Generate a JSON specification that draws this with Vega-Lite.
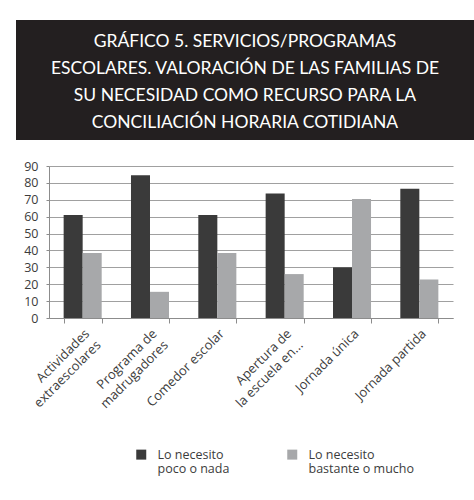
{
  "$schema": "https://vega.github.io/schema/vega-lite/v6.json",
  "padding": {"left": 16, "top": 0, "right": 0, "bottom": 0},
  "background": "white",
  "spacing": -5,
  "config": {
    "font": "Open Sans",
    "view": {"stroke": null}
  },
  "datasets": {
    "titulo": [
      {"n": 1, "t": "GRÁFICO 5. SERVICIOS/PROGRAMAS"},
      {"n": 2, "t": "ESCOLARES. VALORACIÓN DE LAS FAMILIAS DE"},
      {"n": 3, "t": "SU NECESIDAD COMO RECURSO PARA LA"},
      {"n": 4, "t": "CONCILIACIÓN HORARIA COTIDIANA"}
    ],
    "datos": [
      {"servicio": "Actividades extraescolares", "serie": "Lo necesito poco o nada", "valor": 61},
      {"servicio": "Actividades extraescolares", "serie": "Lo necesito bastante o mucho", "valor": 38.5},
      {"servicio": "Programa de madrugadores", "serie": "Lo necesito poco o nada", "valor": 84.5},
      {"servicio": "Programa de madrugadores", "serie": "Lo necesito bastante o mucho", "valor": 15.5},
      {"servicio": "Comedor escolar", "serie": "Lo necesito poco o nada", "valor": 61},
      {"servicio": "Comedor escolar", "serie": "Lo necesito bastante o mucho", "valor": 38.5},
      {"servicio": "Apertura de la escuela en...", "serie": "Lo necesito poco o nada", "valor": 73.7},
      {"servicio": "Apertura de la escuela en...", "serie": "Lo necesito bastante o mucho", "valor": 26},
      {"servicio": "Jornada única", "serie": "Lo necesito poco o nada", "valor": 30},
      {"servicio": "Jornada única", "serie": "Lo necesito bastante o mucho", "valor": 70.5},
      {"servicio": "Jornada partida", "serie": "Lo necesito poco o nada", "valor": 76.6},
      {"servicio": "Jornada partida", "serie": "Lo necesito bastante o mucho", "valor": 22.8}
    ]
  },
  "vconcat": [
    {
      "width": 392,
      "height": 54,
      "view": {"fill": "#231f20", "stroke": "#231f20", "strokeWidth": 66},
      "data": {"name": "titulo"},
      "mark": {"type": "text", "color": "white", "fontSize": 17.5, "font": "Lato", "baseline": "middle", "align": "center"},
      "encoding": {
        "y": {"field": "n", "type": "ordinal", "axis": null, "scale": {"range": [-11, 70], "padding": 0}},
        "text": {"field": "t"}
      }
    },
    {
      "width": 404,
      "height": 152,
      "data": {"name": "datos"},
      "mark": {"type": "bar"},
      "encoding": {
        "x": {
          "field": "servicio",
          "type": "nominal",
          "sort": null,
          "title": null,
          "scale": {"paddingInner": 0.435, "paddingOuter": 0.2175},
          "axis": {
            "labelAngle": -45,
            "labelFontSize": 13,
            "labelColor": "#3c3c3c",
            "labelLineHeight": 16,
            "domainColor": "#8c8c8c",
            "tickColor": "#8c8c8c",
            "tickSize": 5,
            "tickBand": "extent",
            "labelPadding": 4,
            "labelExpr": "datum.label == 'Actividades extraescolares' ? ['Actividades', 'extraescolares'] : datum.label == 'Programa de madrugadores' ? ['Programa de', 'madrugadores'] : datum.label == 'Apertura de la escuela en...' ? ['Apertura de', 'la escuela en...'] : datum.label"
          }
        },
        "xOffset": {"field": "serie", "type": "nominal", "sort": ["Lo necesito poco o nada", "Lo necesito bastante o mucho"], "scale": {"paddingInner": 0, "paddingOuter": 0}},
        "y": {
          "field": "valor",
          "type": "quantitative",
          "title": null,
          "scale": {"domain": [0, 90]},
          "axis": {
            "values": [0, 10, 20, 30, 40, 50, 60, 70, 80, 90],
            "gridColor": "#a0a0a0",
            "domainColor": "#8c8c8c",
            "tickColor": "#8c8c8c",
            "tickSize": 3,
            "labelFontSize": 12.5,
            "labelColor": "#3c3c3c",
            "labelPadding": 8,
            "minExtent": 33
          }
        },
        "color": {
          "field": "serie",
          "type": "nominal",
          "sort": ["Lo necesito poco o nada", "Lo necesito bastante o mucho"],
          "scale": {"domain": ["Lo necesito poco o nada", "Lo necesito bastante o mucho"], "range": ["#3a3a3a", "#a7a8aa"]},
          "legend": {
            "title": null,
            "orient": "none",
            "legendX": 86,
            "legendY": 395,
            "direction": "horizontal",
            "symbolType": "square",
            "symbolSize": 100,
            "symbolStrokeWidth": 0,
            "labelFontSize": 12.5,
            "labelColor": "#3c3c3c",
            "labelLineHeight": 16,
            "labelOffset": 10,
            "columnPadding": 56,
            "labelExpr": "datum.label == 'Lo necesito poco o nada' ? ['Lo necesito', 'poco o nada'] : ['Lo necesito', 'bastante o mucho']"
          }
        }
      }
    }
  ]
}
